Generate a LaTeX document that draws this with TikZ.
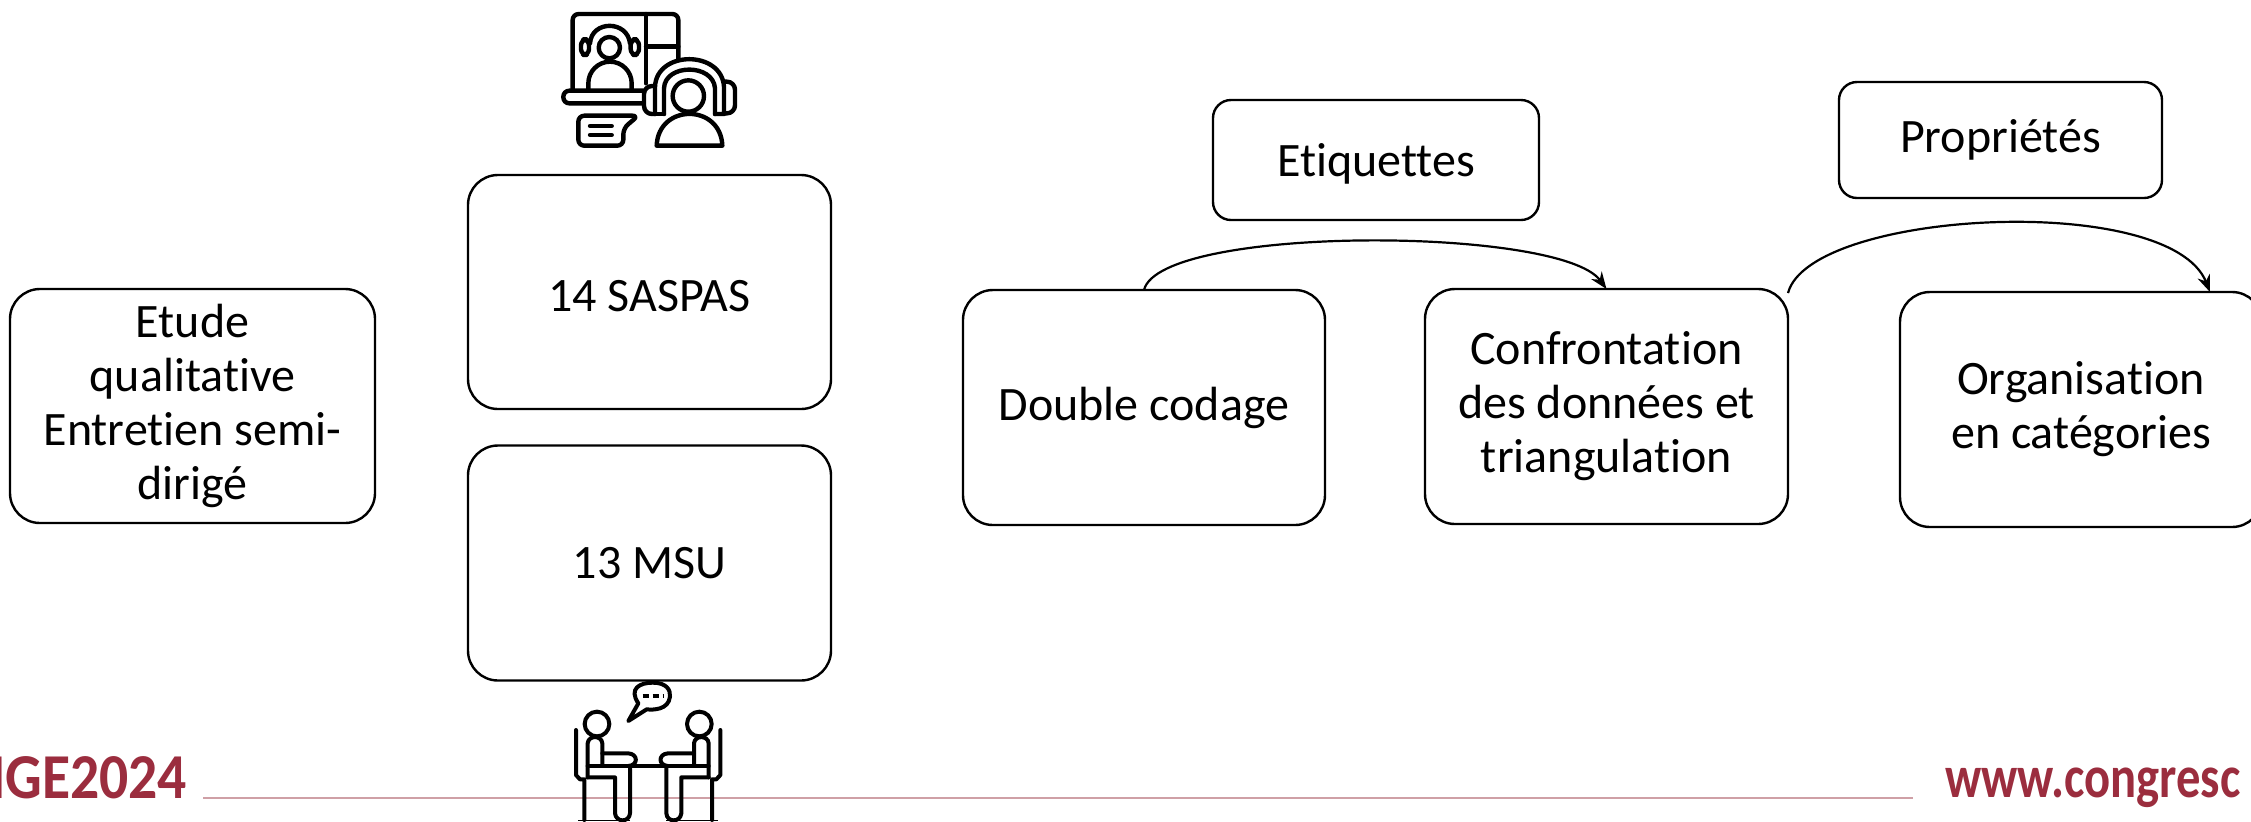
\documentclass[tikz,border=0pt]{standalone}
\usepackage{fontspec}
\setmainfont[Ligatures=NoCommon]{Carlito}
\newfontfamily\logofont[FakeStretch=0.9]{Carlito}
\newfontfamily\sitefont[FakeStretch=0.81,Ligatures=NoCommon]{Carlito}
\usetikzlibrary{arrows.meta,calc}
\definecolor{logored}{HTML}{9B2D3E}
\definecolor{logoline}{HTML}{CFA0A6}
\tikzset{
  bigbox/.style={draw=black,line width=1.2pt,rounded corners=15pt,align=center,inner sep=0pt,outer sep=0pt,font=\fontsize{24}{27}\selectfont},
  smallbox/.style={draw=black,line width=1.2pt,rounded corners=9pt,align=center,inner sep=0pt,outer sep=0pt,font=\fontsize{24}{27}\selectfont},
  flow/.style={draw=black,line width=1.1pt,-{Stealth[length=8.5pt,width=6.5pt]}},
  icon/.style={draw=black,line width=2.2pt,line cap=round,line join=round},
  logo/.style={text=logored,inner sep=0pt,outer sep=0pt,font=\logofont\bfseries\fontsize{32}{32}\selectfont},
  sitelogo/.style={text=logored,inner sep=0pt,outer sep=0pt,font=\sitefont\bfseries\fontsize{30}{30}\selectfont}
}
\begin{document}
\begin{tikzpicture}[x=0.5pt,y=-0.5pt]
\useasboundingbox (0,0) rectangle (2251,821);
\fill[white] (0,0) rectangle (2251,821);
% footer
\coordinate (ruleA) at (203,798);
\coordinate (ruleB) at (1913,798);
\draw[logoline,line width=0.8pt] (ruleA) -- (ruleB);
\node[logo,anchor=base east] (conf) at (187,798) {NGE2024};
\node[sitelogo,anchor=base west] (site) at (1945,797) {www.congresc};
% boxes
\node[bigbox,minimum width=182.5pt,minimum height=117pt] (etude) at (192.5,406) {Etude\\qualitative\\Entretien semi-\\dirigé};
\node[bigbox,minimum width=181.5pt,minimum height=117pt,text height=19pt,text depth=0pt] (saspas) at (649.5,292) {14 SASPAS};
\node[bigbox,minimum width=181.5pt,minimum height=117.5pt] (msu) at (649.5,563) {13 MSU};
\node[bigbox,minimum width=181pt,minimum height=117.5pt] (double) at (1144,407.5) {Double codage};
\node[bigbox,minimum width=181.5pt,minimum height=117.5pt] (confr) at (1606.5,406.5) {Confrontation\\des données et\\triangulation};
\node[bigbox,minimum width=181pt,minimum height=117.5pt] (orga) at (2081,409.5) {Organisation\\en catégories};
\node[smallbox,minimum width=163pt,minimum height=60pt,text height=21pt,text depth=5pt] (etiq) at (1376,160) {Etiquettes};
\node[smallbox,minimum width=161.5pt,minimum height=58pt] (prop) at (2000.5,140) {Propriétés};
% connectors
\draw[flow] (double.north) .. controls +(16,-65) and +(-46,-63) .. (confr.north);
\draw[flow] ([yshift=-2pt]confr.north east) .. controls +(22,-83) and +(-40,-101) .. ([xshift=64.5pt]orga.north);
% top icon
\begin{scope}[shift={(540,0)},x=0.16667pt,y=-0.16667pt]
\draw[icon,rounded corners=3pt] (98,270) -- (98,42) -- (415,42) -- (415,180);
\draw[icon] (318,42) -- (318,250);
\draw[icon] (318,140) -- (415,140);
\draw[icon,rounded corners=3pt] (310,272) -- (70,272) -- (70,310) -- (310,310);
\draw[icon] (208,143) circle[radius=32];
\draw[icon] (145,272) -- (145,250) arc[start angle=180,end angle=360,radius=65] -- (275,272);
\draw[icon] (150,130) .. controls (155,60) and (262,60) .. (270,130);
\draw[icon,rounded corners=3pt] (123,118) rectangle (147,165);
\draw[icon,rounded corners=3pt] (272,118) rectangle (297,165);
\draw[icon] (445,288) circle[radius=47];
\draw[icon] (350,437) .. controls (355,310) and (542,310) .. (547,437) -- cycle;
\draw[icon] (345,342) -- (345,260) .. controls (350,150) and (545,150) .. (552,260) -- (552,342) -- (525,342);
\draw[icon] (372,342) -- (372,265) .. controls (375,190) and (520,190) .. (525,265) -- (525,342);
\draw[icon] (345,342) -- (372,342);
\draw[icon,rounded corners=4pt] (345,258) -- (312,258) -- (312,342) -- (345,342);
\draw[icon,rounded corners=4pt] (552,245) -- (585,245) -- (585,340) -- (552,340);
\draw[icon,rounded corners=3pt] (295,347) -- (115,347) -- (115,437) -- (250,437) -- (250,385) -- cycle;
\draw[icon] (150,378) -- (215,378);
\draw[icon] (150,405) -- (215,405);
\end{scope}
% bottom icon
\begin{scope}[shift={(540,660)},x=0.16667pt,y=-0.16667pt]
\draw[icon,line width=2pt] (265,183) -- (295,130) .. controls (265,85) and (300,68) .. (338,68) .. controls (380,68) and (392,90) .. (390,110) .. controls (385,150) and (340,150) .. (320,148) -- cycle;
\draw[icon,dash pattern=on 3pt off 2pt,line cap=butt] (308,108) -- (372,108);
\foreach \m/\s in {0/1,649/-1}{
\begin{scope}[shift={(\m,0)},xscale=\s]
\draw[icon,line width=2pt] (171,192) circle[radius=37];
\draw[icon,line width=2pt] (108,210) -- (108,345) -- (120,358) -- (133,358) -- (133,480);
\draw[icon,line width=2pt] (143,352) -- (143,250) .. controls (145,225) and (185,225) .. (187,250) -- (187,316);
\draw[icon,line width=2pt] (187,280) -- (265,280) .. controls (295,282) and (295,316) .. (265,318);
\draw[icon,line width=2pt] (143,318) -- (324,318);
\draw[icon,line width=2pt] (143,352) -- (225,352) -- (225,460) .. controls (228,488) and (268,488) .. (270,460) -- (270,325);
\draw[black,line width=0.6pt] (115,481) -- (270,481);
\end{scope}
}
\end{scope}
\end{tikzpicture}
\end{document}
